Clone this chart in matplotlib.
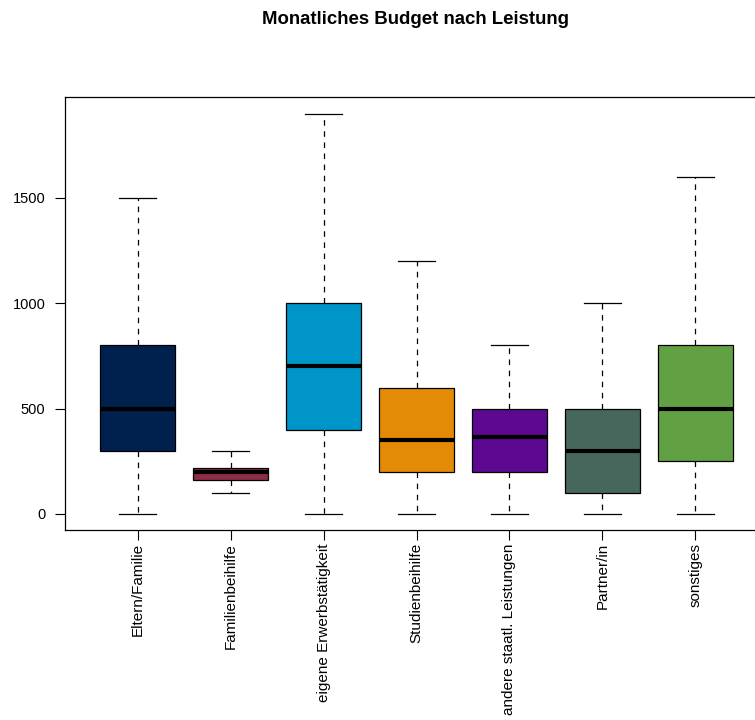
import matplotlib
matplotlib.use('Agg')
import matplotlib.pyplot as plt

plt.rcParams['font.family'] = ['Liberation Sans', 'DejaVu Sans']
plt.rcParams['lines.scale_dashes'] = False

# monthly budget per source (EUR): whiskers, quartiles, median
categories = ['Eltern/Familie', 'Familienbeihilfe', 'eigene Erwerbstätigkeit',
              'Studienbeihilfe', 'andere staatl. Leistungen', 'Partner/in', 'sonstiges']
whis_lo = [0, 100, 0, 0, 0, 0, 0]
q1 = [300, 160, 400, 200, 200, 100, 250]
median = [500, 200, 700, 350, 365, 300, 500]
q3 = [800, 220, 1000, 600, 500, 500, 800]
whis_hi = [1500, 300, 1900, 1200, 800, 1000, 1600]
colors = ['#00204E', '#8E2C48', '#0095C9', '#E38B06', '#5C0891', '#48675C', '#61A143']
yticks = [0, 500, 1000, 1500]

stats = []
for i, name in enumerate(categories):
    stats.append(dict(label=name, whislo=whis_lo[i], q1=q1[i], med=median[i],
                      q3=q3[i], whishi=whis_hi[i], fliers=[]))

fig = plt.figure(figsize=(7.55, 7.2), dpi=100)
# plot region runs past the right edge, like the original export
ax = fig.add_axes([65/755, (720-530)/720, (768-65)/755, (530-97)/720])

bp = ax.bxp(stats, positions=range(1, len(categories)+1), widths=0.8,
            patch_artist=True, showfliers=False,
            boxprops=dict(edgecolor='black', linewidth=0.9),
            medianprops=dict(color='black', linewidth=3),
            whiskerprops=dict(color='black', linewidth=0.9, linestyle=(0, (4, 4))),
            capprops=dict(color='black', linewidth=0.9),
            capwidths=0.4)
for patch, c in zip(bp['boxes'], colors):
    patch.set_facecolor(c)

ax.set_xlim(0.22, 7.78)
ax.set_ylim(-76, 1979)
ax.set_yticks(yticks)
ax.set_yticklabels([str(v) for v in yticks], fontsize=10.5)
ax.set_xticks(range(1, len(categories)+1))
ax.set_xticklabels(categories, rotation=90, fontsize=11, va='top')
ax.tick_params(axis='y', length=7, width=0.8, pad=7)
ax.tick_params(axis='x', length=7, width=0.8, pad=2.5)
for s in ax.spines.values():
    s.set_linewidth(0.9)

fig.text(415/755, 1 - 20/720, 'Monatliches Budget nach Leistung', ha='center', va='center',
         fontsize=13.4, fontweight='bold')

fig.savefig('out.png', dpi=100)
